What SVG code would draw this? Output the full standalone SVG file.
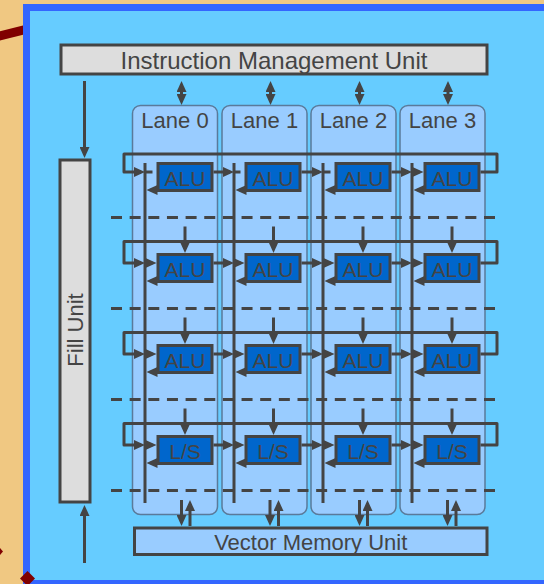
<svg xmlns="http://www.w3.org/2000/svg" width="544" height="584" viewBox="0 0 544 584">
<style>
.box{fill:#DDDDDD;stroke:#444;stroke-width:3}
.lane{fill:#99CCFF;stroke:#5A7A9A;stroke-width:1.5}
.alu{fill:#0066CC;stroke:#444;stroke-width:3}
.vmu{fill:#99CCFF;stroke:#444;stroke-width:3}
text{font-family:"Liberation Sans",Arial,sans-serif;fill:#444}
.t24{font-size:24px;text-anchor:middle}
.t22{font-size:22px;text-anchor:middle}
.t21{font-size:21px;text-anchor:middle}
.ln{fill:none;stroke:#444;stroke-width:3}
.ar{fill:none;stroke:#444;stroke-width:3;marker-end:url(#ah)}
.dar{fill:none;stroke:#444;stroke-width:3;marker-start:url(#ah);marker-end:url(#ah)}
.bus{fill:none;stroke:#444;stroke-width:3;stroke-linejoin:round;marker-end:url(#ah)}
.dash{fill:none;stroke:#444;stroke-width:3;stroke-dasharray:11 7.65}
</style>
<defs>
<marker id="ah" viewBox="0 0 11 10" markerWidth="11" markerHeight="10" markerUnits="userSpaceOnUse" refX="7" refY="5" orient="auto-start-reverse">
<path d="M0,0 L11,5 L0,10 z" fill="#444"/>
</marker>
</defs>
<rect x="0" y="0" width="544" height="584" fill="#F0C882"/>
<line x1="-10" y1="38.3" x2="30" y2="28.3" stroke="#800000" stroke-width="9"/>
<rect x="26.5" y="7.5" width="600" height="576" fill="#66CCFF" stroke="#3366FF" stroke-width="7"/>
<polygon points="27.5,571 35,578.5 27.5,586 20,578.5" fill="#800000"/>
<polygon points="0,548 3,551.5 0,555" fill="#800000"/>

<g id="lanes">
<g id="lane0"><rect class="lane" x="132.5" y="105.5" width="85" height="409" rx="8"/><text class="t22" x="175" y="128">Lane 0</text></g>
<g id="lane1"><rect class="lane" x="222" y="105.5" width="85" height="409" rx="8"/><text class="t22" x="264.5" y="128">Lane 1</text></g>
<g id="lane2"><rect class="lane" x="311" y="105.5" width="85" height="409" rx="8"/><text class="t22" x="353.5" y="128">Lane 2</text></g>
<g id="lane3"><rect class="lane" x="400" y="105.5" width="85" height="409" rx="8"/><text class="t22" x="442.5" y="128">Lane 3</text></g>
</g>

<g id="imu"><rect class="box" x="61" y="45" width="426" height="29"/><text class="t24" x="274" y="69">Instruction Management Unit</text></g>
<g id="fill"><rect class="box" x="60" y="160" width="30" height="342"/><text class="t22" transform="translate(83,330) rotate(-90)">Fill Unit</text></g>
<g id="vmu"><rect class="vmu" x="134.5" y="528" width="352.5" height="26.5"/><text class="t22" x="310.75" y="550">Vector Memory Unit</text></g>

<g id="connectors">
<path class="dash" d="M111,217.5H495M111,308.5H495M111,399.5H495M111,490.5H495"/>
<path class="ln" d="M145,163V503M234,163V503M323,163V503M412,163V503"/>
<!-- IMU to lanes -->
<path class="dar" d="M181.5,85V101"/>
<path class="dar" d="M270.5,85V101"/>
<path class="dar" d="M359.5,85V101"/>
<path class="dar" d="M448,85V101"/>
<!-- Fill unit -->
<path class="ar" d="M84.5,81V154"/>
<path class="ar" d="M84.5,563V509"/>
<!-- lanes to VMU -->
<path class="ar" d="M181.5,500V522"/><path class="ar" d="M190,526V504"/>
<path class="ar" d="M270,500V522"/><path class="ar" d="M278.5,526V504"/>
<path class="ar" d="M359.5,500V522"/><path class="ar" d="M367.5,526V504"/>
<path class="ar" d="M447.5,500V522"/><path class="ar" d="M456,526V504"/>
<!-- row buses -->
<path class="bus" d="M480.5,172H497V154H124V172H141"/>
<path class="bus" d="M480.5,263H497V241.5H124V263H141"/>
<path class="bus" d="M480.5,354H497V332.5H124V354H141"/>
<path class="bus" d="M480.5,445H497V423.5H124V445H141"/>
<!-- row arrows: entry, chain, back -->
<g id="row0arrows">
<path class="ar" d="M145.5,172H152.5M233.5,172H240.5M323.5,172H330.5M412.5,172H419.5"/>
<path class="ar" d="M213.5,172H230"/><path class="ar" d="M301.5,172H319"/><path class="ar" d="M391.5,172H408"/>
<path class="ar" d="M156.5,190H150.5"/><path class="ar" d="M244.5,190H239.5"/><path class="ar" d="M334.5,190H328.5"/><path class="ar" d="M423.5,190H417.5"/>
</g>
<g id="row1arrows">
<path class="ar" d="M145.5,263H152.5"/><path class="ar" d="M233.5,263H240.5"/><path class="ar" d="M323.5,263H330.5"/><path class="ar" d="M412.5,263H419.5"/>
<path class="ar" d="M213.5,263H230"/><path class="ar" d="M301.5,263H319"/><path class="ar" d="M391.5,263H408"/>
<path class="ar" d="M156.5,281H150.5"/><path class="ar" d="M244.5,281H239.5"/><path class="ar" d="M334.5,281H328.5"/><path class="ar" d="M423.5,281H417.5"/>
<path class="ar" d="M185,226.5V249"/><path class="ar" d="M273.5,226.5V249"/><path class="ar" d="M363,226.5V249"/><path class="ar" d="M452,226.5V249"/>
</g>
<g id="row2arrows">
<path class="ar" d="M145.5,354H152.5"/><path class="ar" d="M233.5,354H240.5"/><path class="ar" d="M323.5,354H330.5"/><path class="ar" d="M412.5,354H419.5"/>
<path class="ar" d="M213.5,354H230"/><path class="ar" d="M301.5,354H319"/><path class="ar" d="M391.5,354H408"/>
<path class="ar" d="M156.5,372H150.5"/><path class="ar" d="M244.5,372H239.5"/><path class="ar" d="M334.5,372H328.5"/><path class="ar" d="M423.5,372H417.5"/>
<path class="ar" d="M185,317.5V340"/><path class="ar" d="M273.5,317.5V340"/><path class="ar" d="M363,317.5V340"/><path class="ar" d="M452,317.5V340"/>
</g>
<g id="row3arrows">
<path class="ar" d="M145.5,445H152.5"/><path class="ar" d="M233.5,445H240.5"/><path class="ar" d="M323.5,445H330.5"/><path class="ar" d="M412.5,445H419.5"/>
<path class="ar" d="M213.5,445H230"/><path class="ar" d="M301.5,445H319"/><path class="ar" d="M391.5,445H408"/>
<path class="ar" d="M156.5,463H150.5"/><path class="ar" d="M244.5,463H239.5"/><path class="ar" d="M334.5,463H328.5"/><path class="ar" d="M423.5,463H417.5"/>
<path class="ar" d="M185,408.5V431"/><path class="ar" d="M273.5,408.5V431"/><path class="ar" d="M363,408.5V431"/><path class="ar" d="M452,408.5V431"/>
</g>
</g>

<g id="alu00"><rect class="alu" x="158" y="163.5" width="54" height="27"/><text class="t21" x="185" y="186">ALU</text></g>
<g id="alu01"><rect class="alu" x="246" y="163.5" width="54" height="27"/><text class="t21" x="273" y="186">ALU</text></g>
<g id="alu02"><rect class="alu" x="336" y="163.5" width="54" height="27"/><text class="t21" x="363" y="186">ALU</text></g>
<g id="alu03"><rect class="alu" x="425" y="163.5" width="54" height="27"/><text class="t21" x="452" y="186">ALU</text></g>

<g id="alu10"><rect class="alu" x="158" y="254.5" width="54" height="27"/><text class="t21" x="185" y="277">ALU</text></g>
<g id="alu11"><rect class="alu" x="246" y="254.5" width="54" height="27"/><text class="t21" x="273" y="277">ALU</text></g>
<g id="alu12"><rect class="alu" x="336" y="254.5" width="54" height="27"/><text class="t21" x="363" y="277">ALU</text></g>
<g id="alu13"><rect class="alu" x="425" y="254.5" width="54" height="27"/><text class="t21" x="452" y="277">ALU</text></g>

<g id="alu20"><rect class="alu" x="158" y="345.5" width="54" height="27"/><text class="t21" x="185" y="368">ALU</text></g>
<g id="alu21"><rect class="alu" x="246" y="345.5" width="54" height="27"/><text class="t21" x="273" y="368">ALU</text></g>
<g id="alu22"><rect class="alu" x="336" y="345.5" width="54" height="27"/><text class="t21" x="363" y="368">ALU</text></g>
<g id="alu23"><rect class="alu" x="425" y="345.5" width="54" height="27"/><text class="t21" x="452" y="368">ALU</text></g>

<g id="ls0"><rect class="alu" x="158" y="436.5" width="54" height="27"/><text class="t21" x="185" y="459">L/S</text></g>
<g id="ls1"><rect class="alu" x="246" y="436.5" width="54" height="27"/><text class="t21" x="273" y="459">L/S</text></g>
<g id="ls2"><rect class="alu" x="336" y="436.5" width="54" height="27"/><text class="t21" x="363" y="459">L/S</text></g>
<g id="ls3"><rect class="alu" x="425" y="436.5" width="54" height="27"/><text class="t21" x="452" y="459">L/S</text></g>
</svg>
